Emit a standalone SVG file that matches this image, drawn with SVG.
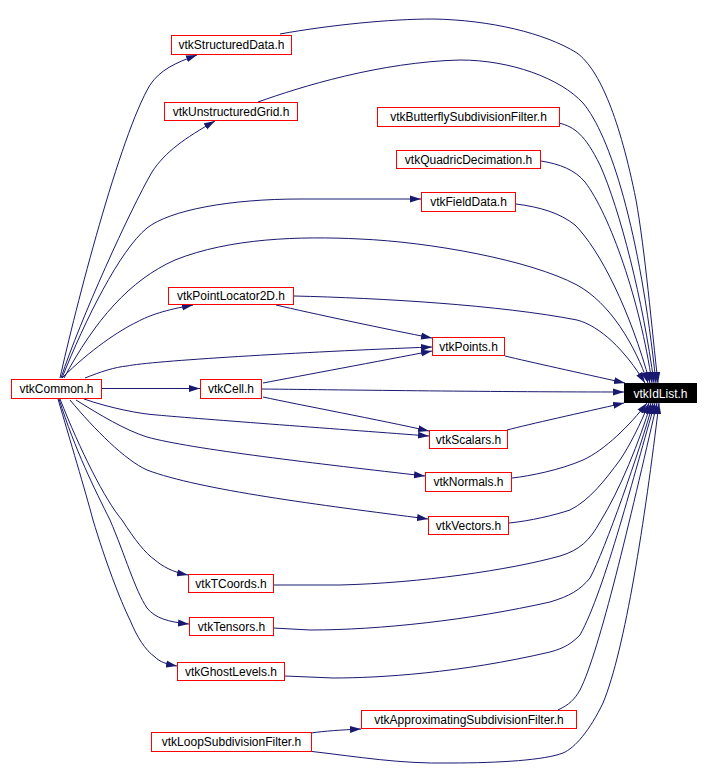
<svg xmlns="http://www.w3.org/2000/svg" width="709" height="781" viewBox="0 0 709 781">
<defs>
<marker id="a" markerUnits="userSpaceOnUse" markerWidth="12" markerHeight="8" refX="11" refY="4" orient="auto"><path d="M0,0.5 L11,4 L0,7.5z" fill="#191970"/></marker>
<style>
.n rect{fill:#fff;stroke:#f00;stroke-width:1}
.n text{font-family:"Liberation Sans",Arial,sans-serif;font-size:12px;fill:#000;text-anchor:middle}
#idlist rect{fill:#000;stroke:#000}
#idlist text{fill:#fff}
.e path{fill:none;stroke:#191970;stroke-width:1;marker-end:url(#a)}
</style>
</defs>
<rect width="709" height="781" fill="#fff"/>
<g class="e" id="edges">
<!-- vtkCommon.h outgoing -->
<path d="M60,378 C75,310 120,135 150,85 C160,70 175,63 197,55"/>
<path d="M61,378 C80,320 130,210 152,172 C165,152 185,138 215,121"/>
<path d="M62,378 C85,320 120,250 147,228 C170,210 230,199 300,199 L421,199"/>
<path d="M64,378 C95,320 130,280 175,260 C230,238 300,236 360,239 C430,242 530,260 577,285 C610,303 635,345 648,383"/>
<path d="M62,378 C90,350 120,330 137,322 C150,315 165,310 193,305"/>
<path d="M85,378 C100,372 115,367 127,366 C150,361 300,352 432,347"/>
<path d="M101,388.5 L200,388.5"/>
<path d="M84,399 C110,408 140,414 157,415 C200,419 350,430 429,436"/>
<path d="M76,400 C100,415 125,430 147,437 C190,449 320,464 425,476"/>
<path d="M70,400 C95,430 125,460 147,470 C200,490 320,505 428,519"/>
<path d="M60,399 C80,450 105,500 122,520 C135,540 145,553 155,560 C162,566 172,572 188,575"/>
<path d="M59,399 C75,450 95,490 110,520 C125,555 135,590 147,608 C155,618 168,622 189,624"/>
<path d="M58,399 C70,440 85,490 93,520 C105,560 120,600 130,620 C137,637 145,650 155,657 C160,662 166,664 177,666"/>
<!-- to vtkIdList.h from top -->
<path d="M280,34 C330,25 390,19 433,19 C490,20 545,33 577,53 C600,70 620,120 636,200 C645,250 652,330 658,383"/>
<path d="M258,102 C300,87 380,62 460,60 C510,60 560,78 583,103 C610,135 640,230 656,383"/>
<path d="M559,123 C575,127 585,135 600,165 C620,210 643,300 654,383"/>
<path d="M541,161 C560,164 575,170 585,182 C610,215 640,300 652,383"/>
<path d="M516,204 C540,207 560,213 575,225 C600,250 630,310 650,383"/>
<path d="M294,296 C380,298 500,305 577,320 C600,326 625,350 645,383"/>
<!-- Point / Cell related -->
<path d="M276,305 C310,313 390,330 432,338"/>
<path d="M505,356 C530,362 580,373 625,383"/>
<path d="M263,383 C300,376 380,361 432,351"/>
<path d="M262,389 C350,390 500,392 624,392"/>
<path d="M263,397 C300,405 380,420 429,431"/>
<path d="M507,430 C530,424 580,413 624,403"/>
<!-- to vtkIdList.h from bottom -->
<path d="M512,478 C530,476 560,470 583,460 C605,450 630,425 647,403"/>
<path d="M509,523 C530,521 555,515 570,510 C590,500 605,480 620,460 C630,445 640,425 649,403"/>
<path d="M274,585 L340,585 C420,583 510,570 560,556 C580,550 590,540 600,522 C620,490 640,440 651,403"/>
<path d="M273,628 L310,630 C380,630 470,620 550,602 C570,596 580,590 590,578 C605,550 640,450 653,403"/>
<path d="M285,676 L333,678 C380,678 460,673 550,652 C565,648 572,643 580,635 C605,590 635,470 655,403"/>
<path d="M558,710 C570,704 574,700 580,690 C600,650 630,520 657,403"/>
<path d="M308,751 C360,757 400,764 450,763 C500,763 545,760 563,753 C575,748 590,730 603,703 C625,650 645,520 659,403"/>
<path d="M311,733 C325,731 340,730 361,729"/>
</g>
<g id="common" class="n"><rect x="11.5" y="379.5" width="90" height="19"/><text x="56.5" y="393">vtkCommon.h</text></g>
<g id="structured" class="n"><rect x="171.5" y="35.5" width="120" height="19"/><text x="231.5" y="49">vtkStructuredData.h</text></g>
<g id="unstructured" class="n"><rect x="164.5" y="102.5" width="133" height="18"/><text x="231" y="115.5">vtkUnstructuredGrid.h</text></g>
<g id="butterfly" class="n"><rect x="377.5" y="107.5" width="182" height="19"/><text x="468.5" y="121">vtkButterflySubdivisionFilter.h</text></g>
<g id="quadric" class="n"><rect x="396.5" y="150.5" width="144" height="18"/><text x="468.5" y="163.5">vtkQuadricDecimation.h</text></g>
<g id="fielddata" class="n"><rect x="421.5" y="192.5" width="94" height="19"/><text x="468.5" y="206">vtkFieldData.h</text></g>
<g id="pointlocator" class="n"><rect x="168.5" y="287.5" width="125" height="17"/><text x="231" y="300">vtkPointLocator2D.h</text></g>
<g id="points" class="n"><rect x="432.5" y="337.5" width="72" height="18"/><text x="468.5" y="350.5">vtkPoints.h</text></g>
<g id="cell" class="n"><rect x="200.5" y="379.5" width="61" height="19"/><text x="231" y="393">vtkCell.h</text></g>
<g id="idlist" class="n"><rect x="624.5" y="383.5" width="72" height="19"/><text x="660.5" y="397.5">vtkIdList.h</text></g>
<g id="scalars" class="n"><rect x="429.5" y="430.5" width="78" height="18"/><text x="468.5" y="443.5">vtkScalars.h</text></g>
<g id="normals" class="n"><rect x="425.5" y="472.5" width="86" height="19"/><text x="468.5" y="486">vtkNormals.h</text></g>
<g id="vectors" class="n"><rect x="428.5" y="516.5" width="80" height="18"/><text x="468.5" y="529.5">vtkVectors.h</text></g>
<g id="tcoords" class="n"><rect x="188.5" y="574.5" width="85" height="18"/><text x="231" y="587.5">vtkTCoords.h</text></g>
<g id="tensors" class="n"><rect x="189.5" y="617.5" width="84" height="18"/><text x="231.5" y="630.5">vtkTensors.h</text></g>
<g id="ghost" class="n"><rect x="177.5" y="662.5" width="107" height="18"/><text x="231" y="675.5">vtkGhostLevels.h</text></g>
<g id="approx" class="n"><rect x="361.5" y="710.5" width="215" height="18"/><text x="469" y="723.5">vtkApproximatingSubdivisionFilter.h</text></g>
<g id="loop" class="n"><rect x="151.5" y="732.5" width="160" height="19"/><text x="231.5" y="746">vtkLoopSubdivisionFilter.h</text></g>
</svg>
